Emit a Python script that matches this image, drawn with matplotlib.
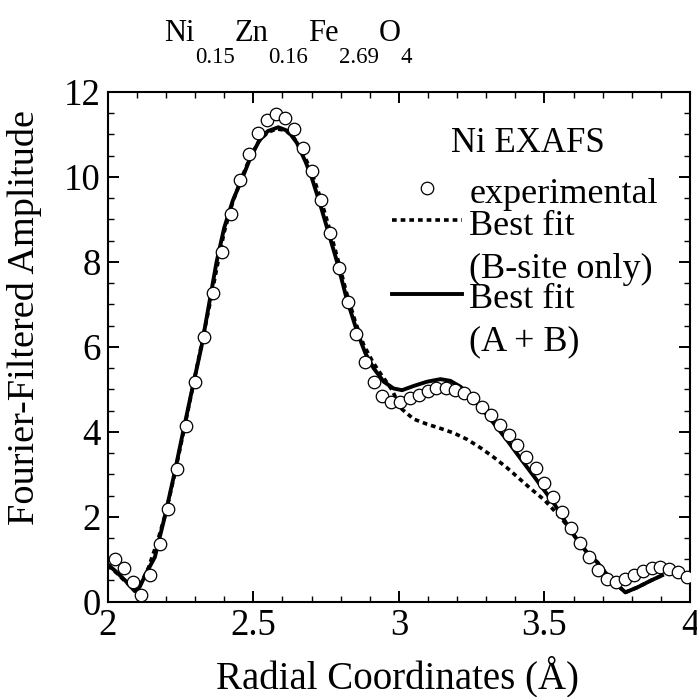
import numpy as np
import matplotlib
matplotlib.use('Agg')
import matplotlib.pyplot as plt
from matplotlib.ticker import MultipleLocator

plt.rcParams['font.family'] = ['Liberation Serif', 'DejaVu Serif']

# experimental points (open circles)
exp_r = [2.024, 2.055, 2.087, 2.116, 2.147, 2.179, 2.208, 2.239, 2.270, 2.301,
         2.332, 2.361, 2.394, 2.423, 2.454, 2.485, 2.516, 2.547, 2.578, 2.609,
         2.640, 2.671, 2.701, 2.732, 2.763, 2.793, 2.824, 2.854, 2.885, 2.915,
         2.942, 2.974, 3.005, 3.037, 3.068, 3.099, 3.129, 3.161, 3.192, 3.223,
         3.255, 3.284, 3.315, 3.346, 3.377, 3.406, 3.437, 3.470, 3.499, 3.530,
         3.560, 3.590, 3.621, 3.652, 3.683, 3.714, 3.745, 3.776, 3.806, 3.837,
         3.868, 3.898, 3.929, 3.958, 3.989]
exp_amp = [1.01, 0.79, 0.47, 0.16, 0.64, 1.36, 2.19, 3.12, 4.13, 5.17,
           6.23, 7.26, 8.24, 9.13, 9.92, 10.55, 11.04, 11.35, 11.48, 11.38,
           11.13, 10.69, 10.13, 9.45, 8.68, 7.85, 7.05, 6.30, 5.65, 5.17,
           4.85, 4.71, 4.71, 4.79, 4.87, 4.96, 5.02, 5.02, 4.98, 4.91,
           4.79, 4.59, 4.39, 4.17, 3.93, 3.68, 3.41, 3.14, 2.80, 2.46,
           2.11, 1.74, 1.38, 1.05, 0.75, 0.53, 0.46, 0.54, 0.64, 0.73,
           0.80, 0.81, 0.77, 0.69, 0.59]

# best fit, B-site only (dotted)
fitB_r = [2.000, 2.030, 2.060, 2.093, 2.115, 2.140, 2.170, 2.200, 2.230, 2.260,
          2.290, 2.320, 2.350, 2.376, 2.400, 2.430, 2.460, 2.490, 2.520, 2.550,
          2.580, 2.610, 2.640, 2.670, 2.700, 2.730, 2.760, 2.790, 2.820, 2.850,
          2.879, 2.910, 2.936, 2.960, 2.977, 2.995, 3.011, 3.051, 3.097, 3.143,
          3.189, 3.235, 3.281, 3.326, 3.372, 3.410, 3.453, 3.499, 3.533, 3.568,
          3.600, 3.647, 3.682, 3.717, 3.757, 3.778, 3.820, 3.866, 3.910]
fitB_amp = [0.85, 0.68, 0.48, 0.27, 0.45, 0.80, 1.40, 2.10, 3.00, 3.98,
            4.98, 5.98, 6.98, 7.90, 8.70, 9.42, 9.98, 10.47, 10.85, 11.05,
            11.13, 11.10, 10.92, 10.58, 10.12, 9.52, 8.82, 8.07, 7.28, 6.60,
            6.05, 5.65, 5.38, 5.15, 4.98, 4.72, 4.53, 4.30, 4.18, 4.08,
            3.97, 3.82, 3.62, 3.40, 3.15, 2.92, 2.66, 2.40, 2.15, 1.88,
            1.58, 1.15, 0.93, 0.62, 0.35, 0.22, 0.34, 0.50, 0.64]

# best fit, A + B (solid)
fitAB_r = [2.000, 2.030, 2.060, 2.093, 2.110, 2.133, 2.162, 2.196, 2.227, 2.259,
           2.290, 2.322, 2.348, 2.374, 2.400, 2.430, 2.464, 2.490, 2.520, 2.550,
           2.586, 2.620, 2.650, 2.680, 2.700, 2.730, 2.760, 2.790, 2.820, 2.850,
           2.867, 2.885, 2.913, 2.948, 2.982, 3.011, 3.051, 3.097, 3.143, 3.177,
           3.212, 3.246, 3.280, 3.326, 3.372, 3.418, 3.464, 3.533, 3.590, 3.613,
           3.647, 3.682, 3.717, 3.757, 3.778, 3.820, 3.866, 3.910]
fitAB_amp = [0.88, 0.70, 0.50, 0.25, 0.35, 0.68, 1.05, 2.00, 2.95, 4.00,
             5.00, 6.00, 7.00, 8.00, 8.80, 9.45, 10.00, 10.45, 10.85, 11.08,
             11.17, 11.08, 10.80, 10.35, 10.00, 9.35, 8.65, 7.95, 7.15, 6.50,
             6.17, 5.85, 5.50, 5.18, 5.02, 4.98, 5.08, 5.18, 5.24, 5.20,
             5.06, 4.83, 4.59, 4.20, 3.80, 3.37, 2.95, 2.31, 1.68, 1.45,
             1.15, 0.92, 0.62, 0.35, 0.22, 0.34, 0.50, 0.64]

fig = plt.figure(figsize=(6.97, 6.97), dpi=100)
ax = fig.add_axes([0.1545, 0.1367, 0.8355, 0.7313])

dots = (0, (1.3, 1.1))
ax.plot(fitB_r, fitB_amp, color='black', lw=2.6, linestyle=dots, zorder=2)
ax.plot(fitAB_r, fitAB_amp, color='black', lw=2.8, solid_capstyle='butt', zorder=3)
ax.plot(exp_r, exp_amp, 'o', ms=9, mfc='white', mec='black', mew=0.9, zorder=4)

ax.set_xlim(2, 4)
ax.set_ylim(0, 12)
ax.xaxis.set_major_locator(MultipleLocator(0.5))
ax.xaxis.set_minor_locator(MultipleLocator(0.1))
ax.yaxis.set_major_locator(MultipleLocator(2))
ax.yaxis.set_minor_locator(MultipleLocator(0.5))
ax.xaxis.set_major_formatter(plt.FuncFormatter(lambda v, p: '%g' % v))
ax.tick_params(which='both', direction='in', top=True, right=True, labelsize=26.5, pad=5)
ax.tick_params(which='major', length=8, width=1.4)
ax.tick_params(which='minor', length=4, width=1.0)
for s in ax.spines.values():
    s.set_linewidth(1.5)

ax.set_xlabel('Radial Coordinates (Å)', fontsize=28)
ax.xaxis.set_label_coords(0.497, -0.106)
ax.set_ylabel('Fourier-Filtered Amplitude', fontsize=27.5)
ax.yaxis.set_label_coords(-0.112, 0.557)

# legend drawn by hand (handles sit on first line of two-line labels)
fs_leg = 26
ax.text(0.722, 0.882, 'Ni EXAFS', transform=ax.transAxes, fontsize=25, ha='center', va='baseline')
ax.plot([0.549], [0.812], 'o', ms=9, mfc='white', mec='black', mew=0.9,
        transform=ax.transAxes, clip_on=False)
ax.text(0.621, 0.783, 'experimental', transform=ax.transAxes, fontsize=fs_leg, va='baseline')
ax.plot([0.488, 0.609], [0.748, 0.748], color='black', lw=2.6, linestyle=dots,
        transform=ax.transAxes, clip_on=False)
ax.text(0.621, 0.720, 'Best fit', transform=ax.transAxes, fontsize=fs_leg, va='baseline')
ax.text(0.621, 0.636, '(B-site only)', transform=ax.transAxes, fontsize=fs_leg, va='baseline')
ax.plot([0.488, 0.609], [0.604, 0.604], color='black', lw=2.8,
        transform=ax.transAxes, clip_on=False)
ax.text(0.621, 0.577, 'Best fit', transform=ax.transAxes, fontsize=fs_leg, va='baseline')
ax.text(0.621, 0.494, '(A + B)', transform=ax.transAxes, fontsize=fs_leg, va='baseline')

# title with large subscripts
parts = [('Ni', 0), ('0.15', 1), ('Zn', 0), ('0.16', 1), ('Fe', 0), ('2.69', 1), ('O', 0), ('4', 1)]
prev = fig.text(0.236, 0.931, parts[0][0], fontsize=22, va='bottom', ha='left')
prev_sub = 0
for txt, sub in parts[1:]:
    dy = 0
    if sub and not prev_sub:
        dy = -14
    elif prev_sub and not sub:
        dy = 14
    prev = ax.annotate(txt, xy=(1, 0), xycoords=prev, xytext=(0, dy), textcoords='offset points',
                       fontsize=16.5 if sub else 22, va='bottom', ha='left', annotation_clip=False)
    prev_sub = sub

fig.savefig('out.png', dpi=100)
